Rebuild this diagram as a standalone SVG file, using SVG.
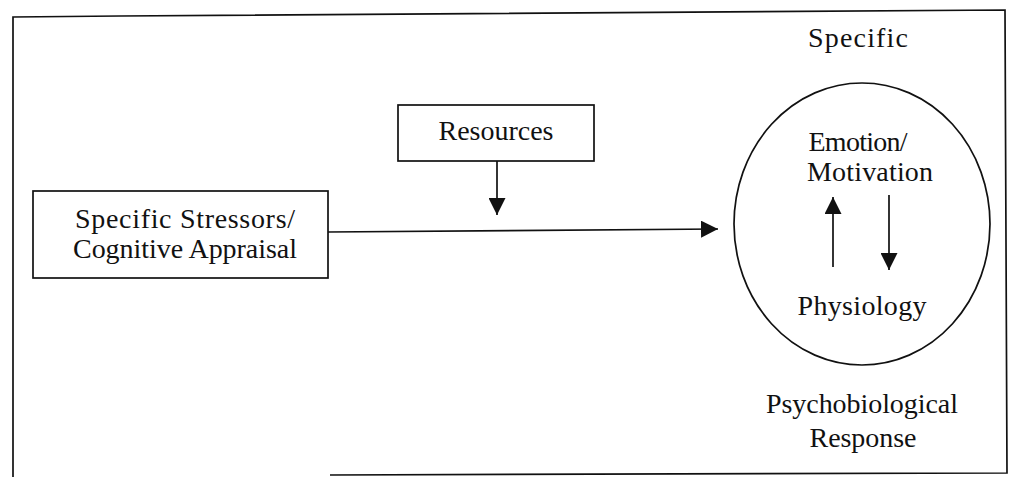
<svg xmlns="http://www.w3.org/2000/svg" width="1013" height="477" viewBox="0 0 1013 477">
<defs>
<style>
.t{font-family:"Liberation Serif","Times New Roman",serif;font-size:28px;fill:#111;text-anchor:middle}
.box{fill:#fff;stroke:#111;stroke-width:1.7}
.ln{fill:none;stroke:#111;stroke-width:1.7}
.ah{fill:#111}
</style>
<marker id="arr" viewBox="0 0 17 17" refX="17" refY="8.5" markerWidth="17" markerHeight="17" markerUnits="userSpaceOnUse" orient="auto">
<path d="M0,0 L17,8.5 L0,17 Z" class="ah"/>
</marker>
</defs>
<rect width="1013" height="477" fill="#fff"/>
<g id="frame">
<path class="ln" d="M13,477 L13,17 L120,16 L1005,10 L1007,473 L330,475"/>
</g>
<g id="stressors">
<rect class="box" x="33" y="191" width="295" height="87"/>
<text class="t" x="185" y="228" textLength="220" lengthAdjust="spacing">Specific Stressors/</text>
<text class="t" x="185" y="258" textLength="224" lengthAdjust="spacing">Cognitive Appraisal</text>
</g>
<g id="resources">
<rect class="box" x="398" y="105" width="196" height="56"/>
<text class="t" x="496" y="140" textLength="115" lengthAdjust="spacing">Resources</text>
</g>
<g id="response">
<text class="t" x="858" y="47" textLength="100" lengthAdjust="spacing">Specific</text>
<ellipse class="ln" cx="862" cy="224" rx="128" ry="141"/>
<text class="t" x="858" y="151" textLength="99" lengthAdjust="spacing">Emotion/</text>
<text class="t" x="870" y="181" textLength="126" lengthAdjust="spacing">Motivation</text>
<text class="t" x="862" y="315" textLength="129" lengthAdjust="spacing">Physiology</text>
<text class="t" x="862" y="413" textLength="192" lengthAdjust="spacing">Psychobiological</text>
<text class="t" x="863" y="447" textLength="107" lengthAdjust="spacing">Response</text>
</g>
<g id="connectors">
<line class="ln" x1="328" y1="232" x2="718" y2="229" marker-end="url(#arr)"/>
<line class="ln" x1="497" y1="161" x2="497" y2="215" marker-end="url(#arr)"/>
<line class="ln" x1="833" y1="267" x2="833" y2="197" marker-end="url(#arr)"/>
<line class="ln" x1="889" y1="195" x2="889" y2="270" marker-end="url(#arr)"/>
</g>
</svg>
